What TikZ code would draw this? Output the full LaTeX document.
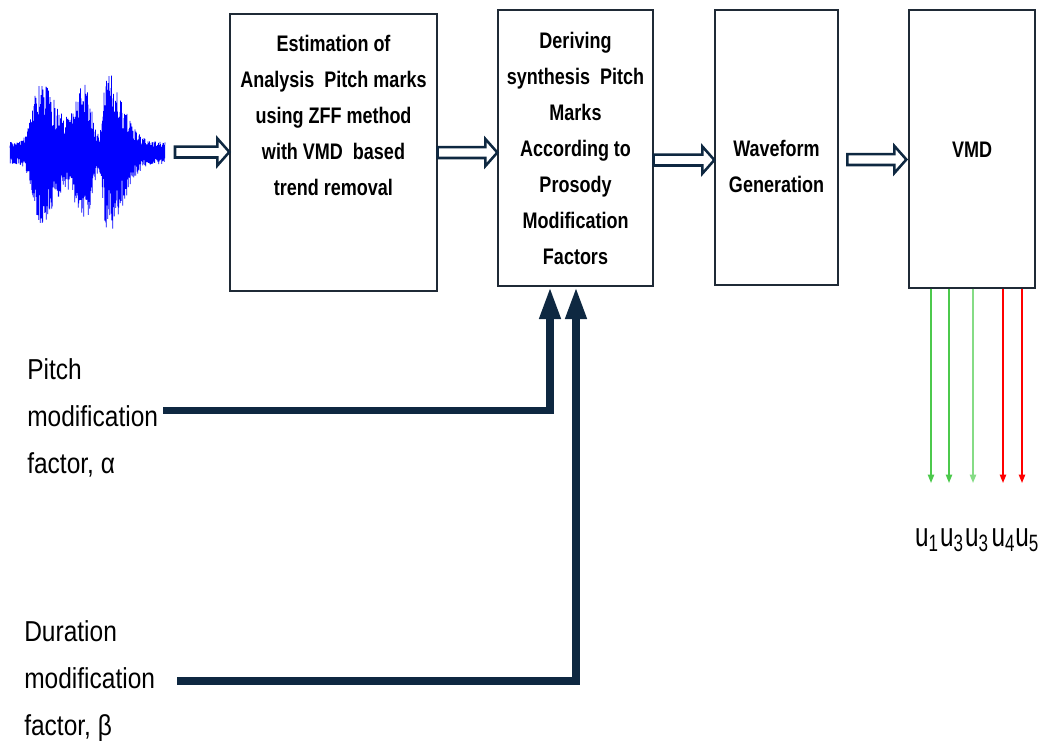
\documentclass[tikz,border=0pt]{standalone}
\usepackage{fontspec}
\setmainfont[FakeStretch=0.8]{Liberation Sans}
\newfontfamily\sidefont[FakeStretch=0.85]{Liberation Sans}
\newfontfamily\modefont[FakeStretch=0.72]{Liberation Sans}
\usetikzlibrary{arrows.meta,calc,positioning}

\definecolor{navy}{HTML}{0E2841}
\definecolor{boxline}{HTML}{1F2A36}
\definecolor{ugreen}{HTML}{4CC94C}
\definecolor{ulight}{HTML}{86DC86}
\definecolor{ured}{HTML}{FF0000}
\definecolor{wavecol}{HTML}{0000FF}

\tikzset{
  blk/.style={draw=boxline, line width=0.9pt, inner sep=0pt},
  blktxt/.style={font=\bfseries\fontsize{16}{25.6}\selectfont, align=center, inner sep=0pt},
  sidetxt/.style={font=\sidefont\fontsize{20.5}{33.4}\selectfont, align=left, inner sep=0pt, anchor=north west},
  ctrl/.style={draw=navy, line width=5.5pt, -{Triangle[length=23pt,width=14pt]}},
  hollow/.style={draw=navy, line width=1.8pt, line join=miter},
  outarr/.style={line width=1.1pt, -{Triangle[length=6pt,width=4.5pt]}},
  declare function={
    gs(\u)=exp(-min((\u)*(\u),50));
    env(\t)=11+60*gs((\t-40)/ifthenelse(\t<40,10,24))
              +58*gs((\t-85)/ifthenelse(\t<85,13,9))
              +70*gs((\t-107)/ifthenelse(\t<107,5,22));}
}

% open block arrow between two points, at the height of the first
\newcommand{\hollowarrow}[2]{%
  \draw[hollow] let \p1=(#1), \p2=(#2) in
    (\x1,\y1+3.9pt) -- (\x2-8.5pt,\y1+3.9pt) -- (\x2-8.5pt,\y1+9.6pt) -- (\x2,\y1)
    -- (\x2-8.5pt,\y1-9.6pt) -- (\x2-8.5pt,\y1-3.9pt) -- (\x1,\y1-3.9pt) -- cycle;}

\begin{document}
\begin{tikzpicture}[x=0.025cm, y=-0.025cm]
  \useasboundingbox (0,0) rectangle (1040,745);

  % speech waveform
  \pgfmathsetseed{12}
  \draw[wavecol, line width=0.4pt]
    plot[domain=10:165, samples=621] (\x, {153 - cos(720*mod(\x,10))*env(\x)*(0.4+0.6*rnd)});
  \coordinate (wav) at (175,152);

  % blocks
  \node[blk, minimum width=5.175cm, minimum height=6.925cm] (b1) at (333.5,152.5) {};
  \node[blk, minimum width=3.875cm, minimum height=6.9cm] (b2) at (575.5,148) {};
  \node[blk, minimum width=3.075cm, minimum height=6.875cm] (b3) at (776.5,147.5) {};
  \node[blk, minimum width=3.15cm, minimum height=6.95cm] (b4) at (972,149) {};

  \node[blktxt] (t1) at (333.5,115) {Estimation of\\Analysis\ \ Pitch marks\\using ZFF method\\with VMD\ \ based\\trend removal};
  \node[blktxt] (t2) at (575.5,148) {Deriving\\synthesis\ \ Pitch\\Marks\\According to\\Prosody\\Modification\\Factors};
  \node[blktxt] (t3) at (776.5,166) {Waveform\\Generation};
  \node[blktxt] (t4) at (972,150) {VMD};

  % main flow
  \hollowarrow{wav}{b1.west}
  \hollowarrow{b1.east}{b2.west}
  \hollowarrow{[yshift=-0.3cm]b2.east}{b3.west}
  \hollowarrow{[xshift=0.22cm,yshift=-0.3cm]b3.east}{[xshift=-0.05cm]b4.west}

  % modification factors
  \node[sidetxt] (pitch) at (27,358) {Pitch\\modification\\factor, α};
  \node[sidetxt] (dur) at (24,620) {Duration\\modification\\factor, β};

  \draw[ctrl] ([xshift=0.125cm,yshift=0.175cm]pitch.east) -| ([xshift=-0.6375cm]b2.south);
  \draw[ctrl] ([xshift=0.55cm]dur.east) -| ([xshift=0.0125cm]b2.south);

  % modes out of VMD
  \foreach \xx/\cc [count=\i] in {931/ugreen,949/ugreen,973/ulight,1003/ured,1022/ured}{
    \coordinate (u\i) at (\xx,483);
    \draw[outarr,\cc] (b4.south -| u\i) -- (u\i);
  }
  \node[font=\modefont\fontsize{24}{28}\selectfont, inner sep=0pt] (modes) at (977,540)
    {u\textsubscript{1}\kern1pt u\textsubscript{3}\kern1pt u\textsubscript{3}\kern2pt u\textsubscript{4}u\textsubscript{5}};
\end{tikzpicture}
\end{document}
